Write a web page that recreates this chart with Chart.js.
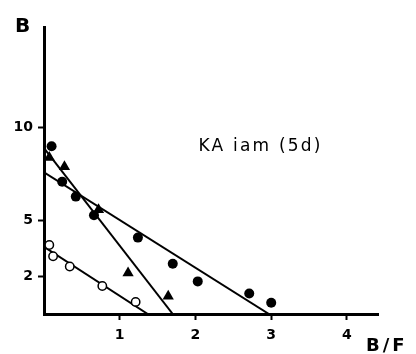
<!DOCTYPE html>
<html><head><meta charset="utf-8">
<script src="https://cdn.jsdelivr.net/npm/chart.js@4"></script>
<style>html,body{margin:0;padding:0;background:#fff}canvas{display:block}</style>
</head><body>
<canvas id="c" width="416" height="354"></canvas>
<script>
// Data
const filledX = [0.10, 0.24, 0.42, 0.66, 1.24, 1.70, 2.03, 2.71, 3.00];
const filledY = [9.0, 7.1, 6.3, 5.3, 4.1, 2.7, 1.75, 1.1, 0.6];
const triX = [0.07, 0.27, 0.72, 1.11, 1.64];
const triY = [8.4, 7.9, 5.6, 2.2, 0.95];
const openX = [0.07, 0.12, 0.34, 0.77, 1.21];
const openY = [3.7, 3.1, 2.55, 1.5, 0.65];
const filledLineX = [0, 2.97], filledLineY = [7.6, 0];
const triLineX = [0, 1.70], triLineY = [8.9, 0];
const openLineX = [0, 1.37], openLineY = [3.6, 0];
const xTicks = [1, 2, 3, 4];
const yTicks = [2, 5, 10];
const yTitle = 'B', xTitle = 'B/F', note = 'KA iam (5d)';
const noteAt = {x: 2.04, y: 8.75};

const pts = (xs, ys) => xs.map((x, i) => ({x, y: ys[i]}));

const textPlugin = {
  id: 'texts',
  afterDraw(chart) {
    const ctx = chart.ctx, xs = chart.scales.x, ys = chart.scales.y;
    ctx.save();
    ctx.fillStyle = '#000';
    ctx.textBaseline = 'alphabetic';
    ctx.textAlign = 'left';
    ctx.font = 'bold 20px "DejaVu Sans"';
    ctx.fillText(yTitle, 15, 32);
    ctx.letterSpacing = '3px';
    ctx.font = 'bold 18px "DejaVu Sans"';
    ctx.fillText(xTitle, 366, 351);
    ctx.letterSpacing = '2.2px';
    ctx.font = '17px "DejaVu Sans"';
    ctx.fillText(note, xs.getPixelForValue(noteAt.x), ys.getPixelForValue(noteAt.y));
    ctx.restore();
  }
};

const lineDs = (xs, ys) => ({type: 'line', data: pts(xs, ys), borderColor: '#000', borderWidth: 2,
  pointRadius: 0, showLine: true, fill: false, order: 2});

new Chart(document.getElementById('c'), {
  type: 'scatter',
  data: {datasets: [
    lineDs(filledLineX, filledLineY),
    lineDs(triLineX, triLineY),
    lineDs(openLineX, openLineY),
    {data: pts(filledX, filledY), pointStyle: 'circle', pointRadius: 5, backgroundColor: '#000', borderColor: '#000', borderWidth: 0, order: 1},
    {data: pts(triX, triY), pointStyle: 'triangle', pointRadius: 6.5, backgroundColor: '#000', borderColor: '#000', borderWidth: 0, order: 1},
    {data: pts(openX, openY), pointStyle: 'circle', pointRadius: 4.2, backgroundColor: '#fff', borderColor: '#000', borderWidth: 1.5, order: 1}
  ]},
  options: {
    responsive: false, animation: false, devicePixelRatio: 1,
    layout: {padding: {left: 0, top: 27, right: 38, bottom: 0}},
    plugins: {legend: {display: false}, tooltip: {enabled: false}},
    scales: {
      x: {
        type: 'linear', min: 0, max: 4.41,
        afterBuildTicks: s => { s.ticks = xTicks.map(v => ({value: v})); },
        afterFit: s => { s.height = 40; },
        border: {color: '#000', width: 3},
        grid: {drawOnChartArea: false, tickLength: 6, tickColor: '#000', tickWidth: 2},
        ticks: {color: '#000', font: {family: 'DejaVu Sans', weight: 'bold', size: 14}, padding: 7, maxRotation: 0}
      },
      y: {
        type: 'linear', min: 0, max: 15.4,
        afterBuildTicks: s => { s.ticks = yTicks.map(v => ({value: v})); },
        afterFit: s => { s.width = 44; },
        border: {color: '#000', width: 3},
        grid: {drawOnChartArea: false, tickLength: 6, tickColor: '#000', tickWidth: 2},
        ticks: {color: '#000', font: {family: 'DejaVu Sans', weight: 'bold', size: 14}, padding: 5}
      }
    }
  },
  plugins: [textPlugin]
});
</script>
</body></html>
